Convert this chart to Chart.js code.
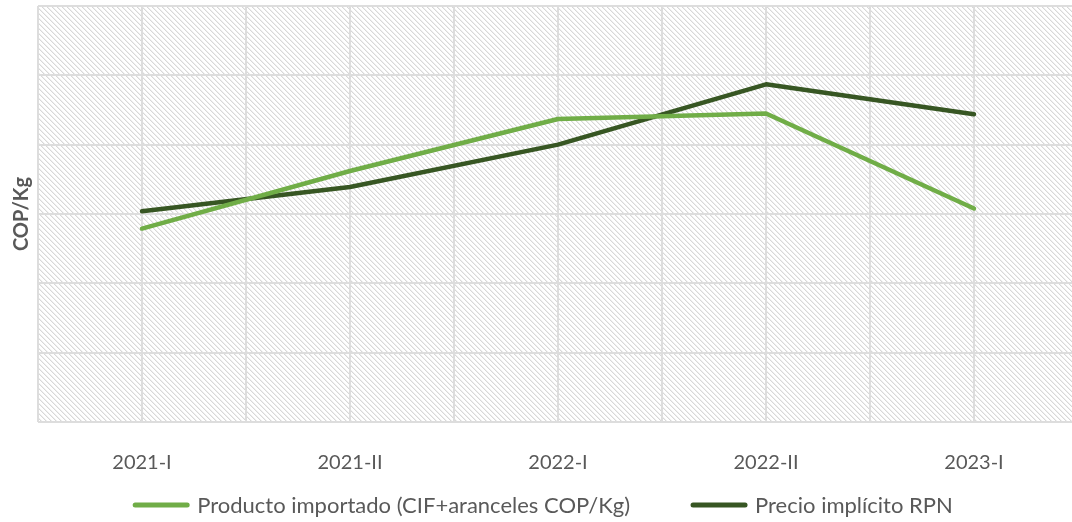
<!DOCTYPE html>
<html>
<head>
<meta charset="utf-8">
<script src="https://cdn.jsdelivr.net/npm/chart.js@4.4.0/dist/chart.umd.min.js"></script>
<style>
  html, body { margin: 0; padding: 0; background: #ffffff; overflow: hidden; }
  #wrap { position: relative; width: 1080px; height: 522px; }
</style>
</head>
<body>
<div id="wrap"><canvas id="c" width="1080" height="522"></canvas></div>
<script>
// ---- data ----
const categories = ['2021-I', '2021-II', '2022-I', '2022-II', '2023-I'];
const seriesNames = ['Producto importado (CIF+aranceles COP/Kg)', 'Precio implícito RPN'];
const importado = [2.79, 3.62, 4.37, 4.45, 3.08];
const rpn = [3.04, 3.39, 4.00, 4.87, 4.44];
const yAxisTitle = 'COP/Kg';
const yMin = 0, yMax = 6, yStep = 1;

const FONT = 'Lato, "Open Sans", sans-serif';
const TEXT = '#595959';
const GRID = '#dddddd';

// hatch pattern
function makePattern() {
  const n = 5;
  const p = document.createElement('canvas');
  p.width = n; p.height = n;
  const g = p.getContext('2d');
  g.fillStyle = '#ffffff';
  g.fillRect(0, 0, n, n);
  for (let i = 0; i < n; i++) {
    g.fillStyle = '#d8d8d8';
    g.fillRect(i, i, 1, 1);
    g.fillStyle = '#efefef';
    g.fillRect((i + 1) % n, i, 1, 1);
  }
  return p;
}

const hatchPlugin = {
  id: 'hatch',
  beforeDraw(chart) {
    const { ctx, chartArea: a } = chart;
    ctx.save();
    ctx.fillStyle = ctx.createPattern(makePattern(), 'repeat');
    ctx.fillRect(a.left, a.top, a.right - a.left, a.bottom - a.top);
    ctx.restore();
  }
};

const legendPlugin = {
  id: 'customLegend',
  afterDraw(chart) {
    const ctx = chart.ctx;
    const lineW = 56, gap = 8, itemGap = 61, y = 505;
    ctx.save();
    ctx.font = '22px ' + FONT;
    const items = chart.data.datasets.map(ds => ({
      label: ds.label, color: ds.borderColor, tw: ctx.measureText(ds.label).width
    }));
    const total = items.reduce((s, it) => s + lineW + gap + it.tw, 0) + itemGap * (items.length - 1);
    let x = (chart.width - total) / 2 + 3;
    items.forEach(it => {
      ctx.strokeStyle = it.color;
      ctx.lineWidth = 5;
      ctx.lineCap = 'round';
      ctx.beginPath();
      ctx.moveTo(x + 2, y);
      ctx.lineTo(x + lineW - 2, y);
      ctx.stroke();
      ctx.fillStyle = TEXT;
      ctx.textBaseline = 'middle';
      ctx.textAlign = 'left';
      ctx.fillText(it.label, x + lineW + gap, y + 1);
      x += lineW + gap + it.tw + itemGap;
    });
    ctx.restore();
  }
};

new Chart(document.getElementById('c'), {
  type: 'line',
  data: {
    labels: categories,
    datasets: [
      { label: seriesNames[0], data: importado, borderColor: '#70AD47', backgroundColor: '#70AD47',
        borderWidth: 4.5, pointRadius: 0, tension: 0, borderCapStyle: 'round', borderJoinStyle: 'round' },
      { label: seriesNames[1], data: rpn, borderColor: '#375623', backgroundColor: '#375623',
        borderWidth: 4.5, pointRadius: 0, tension: 0, borderCapStyle: 'round', borderJoinStyle: 'round' }
    ]
  },
  options: {
    responsive: false,
    animation: false,
    events: [],
    layout: { padding: { top: 6, right: 2, left: 0, bottom: 40 } },
    plugins: { legend: { display: false }, tooltip: { enabled: false } },
    scales: {
      x: {
        type: 'category',
        offset: true,
        position: 'bottom',
        grid: { display: false },
        border: { display: false },
        ticks: { color: TEXT, font: { family: FONT, size: 20 }, padding: 21, maxRotation: 0, autoSkip: false },
        afterFit(s) { s.height = 60; }
      },
      x2: {
        type: 'category',
        labels: categories.flatMap(c => [c + 'a', c + 'b']),
        offset: true,
        position: 'bottom',
        grid: { display: true, offset: true, color: GRID, lineWidth: 2, drawTicks: false },
        border: { display: false },
        ticks: { display: false },
        afterFit(s) { s.height = 0; }
      },
      y: {
        min: yMin, max: yMax,
        ticks: { display: false, stepSize: yStep },
        grid: { color: GRID, lineWidth: 2, drawTicks: false },
        border: { display: false },
        title: { display: true, text: yAxisTitle, color: TEXT, font: { family: FONT, size: 20, weight: 'bold' }, padding: { top: 10, bottom: 0 } },
        afterFit(s) { s.width = 38; }
      }
    }
  },
  plugins: [hatchPlugin, legendPlugin]
});
</script>
</body>
</html>
